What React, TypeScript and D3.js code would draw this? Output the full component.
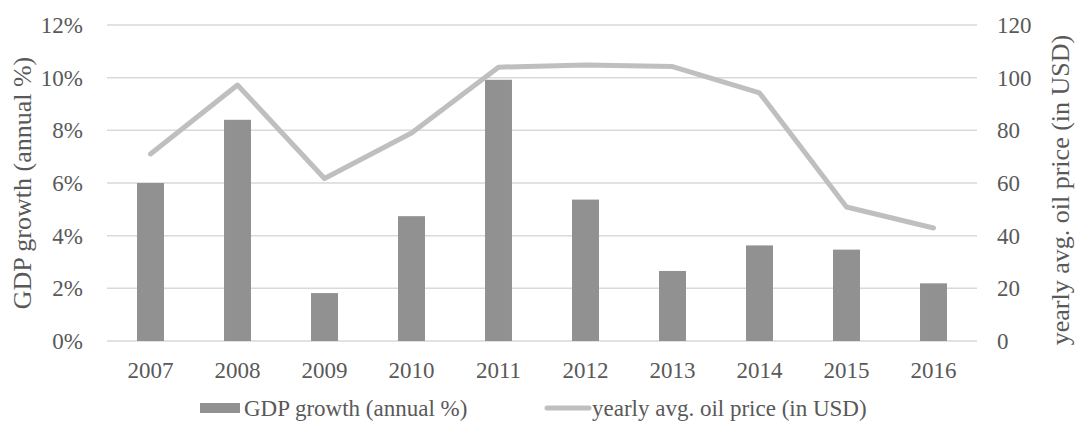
import React from "react";
import * as d3 from "d3";

const years = ["2007", "2008", "2009", "2010", "2011", "2012", "2013", "2014", "2015", "2016"];
const gdpGrowth = [6.0, 8.4, 1.82, 4.74, 9.92, 5.37, 2.66, 3.63, 3.47, 2.19];
const oilPrice = [71, 97.2, 61.7, 79, 104, 104.8, 104.2, 94.2, 50.9, 42.9];
const leftTicks = [0, 2, 4, 6, 8, 10, 12];
const rightTicks = [0, 20, 40, 60, 80, 100, 120];

const W = 1075;
const H = 433;
const plot = { left: 107, right: 977, top: 25, bottom: 341 };
const FONT = "'Liberation Serif', 'Times New Roman', serif";
const TEXT = "#595959";
const TICK_SIZE = 23;
const TITLE_SIZE = 26;
const LEGEND_SIZE = 23;

export default function App() {
  const x = d3.scaleBand<string>().domain(years).range([plot.left, plot.right]).padding(0);
  const yL = d3.scaleLinear().domain([0, 12]).range([plot.bottom, plot.top]);
  const yR = d3.scaleLinear().domain([0, 120]).range([plot.bottom, plot.top]);
  const barW = x.bandwidth() * 0.31;
  const cx = (y: string) => (x(y) ?? 0) + x.bandwidth() / 2;

  const line = d3
    .line<number>()
    .x((_, i) => cx(years[i]))
    .y((v) => yR(v));

  const legendY = 408;

  return (
    <svg
      width={W}
      height={H}
      style={{ position: "absolute", left: 0, top: 0, background: "#fff" }}
      fontFamily={FONT}
    >
      {/* gridlines */}
      {leftTicks.map((t) => (
        <line
          key={"g" + t}
          x1={plot.left}
          x2={plot.right}
          y1={yL(t)}
          y2={yL(t)}
          stroke="#d9d9d9"
          strokeWidth={1.5}
        />
      ))}

      {/* GDP bars */}
      {gdpGrowth.map((v, i) => (
        <rect
          key={"b" + i}
          x={cx(years[i]) - barW / 2}
          y={yL(v)}
          width={barW}
          height={yL(0) - yL(v)}
          fill="#919191"
        />
      ))}

      {/* oil price line */}
      <path
        d={line(oilPrice) ?? ""}
        fill="none"
        stroke="#bfbfbf"
        strokeWidth={5}
        strokeLinecap="round"
        strokeLinejoin="round"
      />

      {/* left axis labels */}
      {leftTicks.map((t) => (
        <text key={"l" + t} x={83} y={yL(t)} dy="0.35em" textAnchor="end" fontSize={TICK_SIZE} fill={TEXT}>
          {t}%
        </text>
      ))}

      {/* right axis labels */}
      {rightTicks.map((t) => (
        <text key={"r" + t} x={997} y={yR(t)} dy="0.35em" textAnchor="start" fontSize={TICK_SIZE} fill={TEXT}>
          {t}
        </text>
      ))}

      {/* category labels */}
      {years.map((y) => (
        <text key={"x" + y} x={cx(y)} y={370} dy="0.35em" textAnchor="middle" fontSize={TICK_SIZE} fill={TEXT}>
          {y}
        </text>
      ))}

      {/* axis titles */}
      <text
        transform={`translate(22, 183) rotate(-90)`}
        textAnchor="middle"
        dy="0.35em"
        fontSize={TITLE_SIZE}
        fill={TEXT}
      >
        GDP growth (annual %)
      </text>
      <text
        transform={`translate(1060, 190) rotate(-90)`}
        textAnchor="middle"
        dy="0.35em"
        fontSize={TITLE_SIZE}
        fill={TEXT}
      >
        yearly avg. oil price (in USD)
      </text>

      {/* legend */}
      <rect x={200} y={legendY - 5} width={40} height={10} fill="#919191" />
      <text x={244} y={legendY} dy="0.35em" fontSize={LEGEND_SIZE} fill={TEXT}>
        GDP growth (annual %)
      </text>
      <line
        x1={547}
        x2={589}
        y1={legendY}
        y2={legendY}
        stroke="#bfbfbf"
        strokeWidth={5}
        strokeLinecap="round"
      />
      <text x={592} y={legendY} dy="0.35em" fontSize={LEGEND_SIZE} fill={TEXT}>
        yearly avg. oil price (in USD)
      </text>
    </svg>
  );
}
